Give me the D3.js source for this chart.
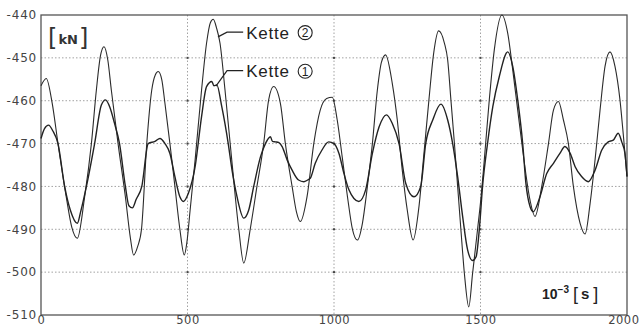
<!DOCTYPE html>
<html>
<head>
<meta charset="utf-8">
<script src="https://cdn.jsdelivr.net/npm/d3@7"></script>
<style>
  body { margin: 0; background: #fff; }
  svg { display: block; }
</style>
</head>
<body>
<div id="chart"></div>
<script>
// time in 10^-3 s, force in kN
const kette2T = [0, 18, 38, 58, 86, 105, 124, 149, 172, 189, 203, 215, 228, 240, 263, 288, 305, 316, 330, 343, 361, 378, 390, 400, 412, 423, 440, 457, 474, 489, 498, 509, 526, 548, 565, 578, 588, 599, 611, 628, 651, 675, 692, 714, 737, 760, 777, 794, 817, 834, 857, 872, 885, 908, 931, 953, 975, 994, 1011, 1028, 1046, 1063, 1080, 1097, 1114, 1131, 1148, 1162, 1176, 1199, 1216, 1233, 1250, 1270, 1290, 1307, 1324, 1340, 1357, 1377, 1388, 1399, 1411, 1422, 1433, 1445, 1460, 1473, 1490, 1502, 1513, 1530, 1547, 1573, 1593, 1610, 1627, 1644, 1669, 1686, 1709, 1732, 1749, 1766, 1783, 1800, 1817, 1840, 1857, 1874, 1891, 1908, 1925, 1942, 1959, 1976, 1988, 2000];
const kette2V = [-456.5, -454.8, -460.5, -470, -482.4, -489.5, -492.1, -482.4, -470, -457.5, -449.5, -447.4, -450.5, -457.5, -470, -482.4, -492, -496, -494, -490, -470, -457.5, -454, -453.2, -455, -460.6, -470, -480, -490, -496, -493, -485.5, -473.8, -457.5, -446.6, -441.8, -441, -443, -446.6, -457.5, -473.8, -490, -497.9, -490, -480, -470, -459.8, -456.7, -460.6, -470, -480, -486, -488.2, -482.4, -470, -462.2, -459.5, -459.2, -464.5, -473.1, -482.4, -490, -492.5, -488.6, -480, -470, -457.5, -451, -449.3, -456, -464.5, -476.2, -485.5, -492.5, -484.7, -472.3, -459.8, -449, -443.7, -446.6, -450.5, -459.8, -470, -480, -490, -500.3, -508.1, -500.3, -490, -482.4, -473.8, -459.8, -448.2, -440, -444.3, -452.8, -462.2, -471.5, -483.2, -487, -480, -470, -462.2, -460.2, -464.5, -470, -480, -488.6, -491.1, -484, -473.8, -462.2, -452, -448.6, -452, -459.8, -468.4, -477.7];

const kette1T = [0, 12, 26, 40, 58, 81, 100, 124, 135, 155, 183, 206, 220, 235, 251, 268, 288, 300, 312, 325, 344, 366, 389, 406, 423, 440, 457, 474, 486, 503, 526, 548, 565, 583, 590, 600, 617, 639, 652, 669, 692, 709, 726, 749, 766, 783, 790, 800, 812, 823, 840, 857, 879, 897, 910, 919, 936, 959, 982, 1000, 1017, 1034, 1051, 1068, 1085, 1108, 1131, 1154, 1179, 1199, 1222, 1245, 1273, 1296, 1313, 1337, 1365, 1388, 1405, 1422, 1439, 1456, 1473, 1485, 1496, 1507, 1524, 1542, 1564, 1593, 1610, 1627, 1644, 1655, 1669, 1680, 1703, 1726, 1749, 1771, 1788, 1806, 1823, 1845, 1868, 1891, 1914, 1936, 1953, 1970, 1982, 1993, 2000];
const kette1V = [-468.8, -466.5, -465.7, -467, -470, -480.1, -485.5, -488.6, -486, -480, -470, -461, -459.8, -461.5, -465.3, -470, -480, -484.5, -485, -483, -480, -470, -469.5, -468.8, -470, -472.3, -477.7, -482.4, -483.5, -481.6, -475.4, -463.7, -456.7, -455.5, -456.5, -456.3, -461.4, -470, -476.2, -482.4, -487.4, -485.5, -480, -473.1, -470, -468.4, -469.5, -469.6, -469.8, -470.7, -473.8, -476.2, -478.5, -478.9, -478.5, -478.1, -474.6, -471.5, -469.6, -470, -472.3, -477, -480.8, -482.8, -483.5, -480.8, -472.3, -466.1, -463.3, -465.3, -470, -479.3, -482.4, -480, -470, -464.5, -460.8, -464.5, -470, -477.7, -487, -494.8, -497.3, -496.4, -490, -480, -470, -461.4, -454.4, -448.6, -452, -459.8, -470, -479.3, -484.7, -485.9, -482.4, -477, -474.6, -472.3, -470.7, -472.3, -475.4, -477.7, -478.9, -476.2, -471.5, -469.6, -469.2, -467.6, -469.6, -472.3, -477.7];

const xTicks = [0, 500, 1000, 1500, 2000];
const yTicks = [-440, -450, -460, -470, -480, -490, -500, -510];

// label anchors in data units: [t, kN] of curve point, elbow, text start
const labels = [
  { name: 'Kette', num: '2', point: [604, -445.1], elbow: [635, -444.0], end: [690, -444.0] },
  { name: 'Kette', num: '1', point: [597, -456.6], elbow: [635, -453.0], end: [690, -453.0] }
];

const W = 640, H = 329;
const margin = { top: 15, right: 13, bottom: 14, left: 41 };
const width = W - margin.left - margin.right;
const height = H - margin.top - margin.bottom;

const svg = d3.select('#chart').append('svg')
  .attr('width', W).attr('height', H);
const g = svg.append('g')
  .attr('transform', `translate(${margin.left},${margin.top})`);

const x = d3.scaleLinear().domain([0, 2000]).range([0, width]);
const y = d3.scaleLinear().domain([-510, -440]).range([height, 0]);

// grid
g.append('g')
  .selectAll('line.hg')
  .data(yTicks.slice(1, -1))
  .enter().append('line')
  .attr('x1', 0).attr('x2', width)
  .attr('y1', d => y(d)).attr('y2', d => y(d))
  .attr('stroke', '#8a8a8a').attr('stroke-width', 0.8)
  .attr('stroke-dasharray', '1.5,2');
g.append('g')
  .selectAll('line.vg')
  .data(xTicks.slice(1, -1))
  .enter().append('line')
  .attr('y1', 0).attr('y2', height)
  .attr('x1', d => x(d)).attr('x2', d => x(d))
  .attr('stroke', '#8a8a8a').attr('stroke-width', 0.8)
  .attr('stroke-dasharray', '1.5,2');

// small marks where grid lines cross
const crossings = [];
xTicks.slice(1, -1).forEach(t => yTicks.slice(1, -1).forEach(v => crossings.push([t, v])));
g.append('g').selectAll('rect')
  .data(crossings)
  .enter().append('rect')
  .attr('x', d => x(d[0]) - 1).attr('y', d => y(d[1]) - 1)
  .attr('width', 2).attr('height', 2)
  .attr('fill', '#444');

// frame
g.append('rect')
  .attr('x', 0).attr('y', 0).attr('width', width).attr('height', height)
  .attr('fill', 'none').attr('stroke', '#555').attr('stroke-width', 1.3);

// axes labels
const yAxis = g.append('g')
  .call(d3.axisLeft(y).tickValues(yTicks).tickSize(0).tickPadding(4).tickFormat(d => String(d)));
yAxis.select('.domain').remove();
yAxis.selectAll('text')
  .attr('font-family', 'DejaVu Sans, sans-serif')
  .attr('font-size', 12)
  .attr('letter-spacing', 0.8)
  .attr('fill', '#444');

const xAxis = g.append('g')
  .attr('transform', `translate(0,${height})`)
  .call(d3.axisBottom(x).tickValues(xTicks).tickSize(0).tickPadding(1).tickFormat(d => String(d)));
xAxis.select('.domain').remove();
xAxis.selectAll('text')
  .attr('font-family', 'DejaVu Sans, sans-serif')
  .attr('font-size', 11.5)
  .attr('letter-spacing', 0.5)
  .attr('fill', '#444');
// keep the last label inside the window
xAxis.selectAll('.tick').filter(d => d === 2000).select('text')
  .attr('text-anchor', 'end').attr('x', W - margin.left - width - 1);

// series
const line = d3.line()
  .x(d => x(d[0]))
  .y(d => y(d[1]))
  .curve(d3.curveMonotoneX);

g.append('path')
  .datum(d3.zip(kette2T, kette2V))
  .attr('d', line)
  .attr('fill', 'none').attr('stroke', '#2b2b2b').attr('stroke-width', 1.1);
g.append('path')
  .datum(d3.zip(kette1T, kette1V))
  .attr('d', line)
  .attr('fill', 'none').attr('stroke', '#222').attr('stroke-width', 1.4);

// labels with leaders
labels.forEach(l => {
  g.append('polyline')
    .attr('points', [l.point, l.elbow, l.end].map(p => `${x(p[0])},${y(p[1])}`).join(' '))
    .attr('fill', 'none').attr('stroke', '#222').attr('stroke-width', 1.2);
  const tx = x(l.end[0]) + 3, ty = y(l.end[1]) + 6.5;
  g.append('text')
    .attr('x', tx).attr('y', ty)
    .attr('font-family', 'Liberation Sans, Arial, sans-serif')
    .attr('font-size', 17).attr('letter-spacing', 0.8)
    .attr('fill', '#222')
    .text(l.name);
  const cx = tx + 59, cy = y(l.end[1]) + 0.5;
  g.append('circle')
    .attr('cx', cx).attr('cy', cy).attr('r', 7)
    .attr('fill', 'none').attr('stroke', '#222').attr('stroke-width', 1.1);
  g.append('text')
    .attr('x', cx).attr('y', cy + 4.5)
    .attr('text-anchor', 'middle')
    .attr('font-family', 'Liberation Sans, Arial, sans-serif')
    .attr('font-size', 12).attr('fill', '#222')
    .text(l.num);
});

// unit labels
const unitY = svg.append('text')
  .attr('x', 48).attr('y', 46)
  .attr('font-family', 'DejaVu Sans, sans-serif')
  .attr('fill', '#333');
unitY.append('tspan').attr('font-size', 24).attr('font-weight', 'normal').text('[');
unitY.append('tspan').attr('font-size', 13).attr('font-weight', 'bold').attr('dy', -2).attr('dx', 1).text('kN');
unitY.append('tspan').attr('font-size', 24).attr('font-weight', 'normal').attr('dy', 2).attr('dx', 1).text(']');

const unitX = svg.append('text')
  .attr('x', 542).attr('y', 299)
  .attr('font-family', 'Liberation Sans, Arial, sans-serif')
  .attr('fill', '#222');
unitX.append('tspan').attr('font-size', 14).attr('font-weight', 'bold').text('10');
unitX.append('tspan').attr('font-size', 10).attr('font-weight', 'bold').attr('dy', -6).text('−3');
unitX.append('tspan').attr('font-size', 18).attr('dy', 7).attr('dx', 4).text('[');
unitX.append('tspan').attr('font-size', 15).attr('font-weight', 'bold').attr('dy', -1).attr('dx', 3).text('s');
unitX.append('tspan').attr('font-size', 18).attr('dy', 1).attr('dx', 4).text(']');
</script>
</body>
</html>
